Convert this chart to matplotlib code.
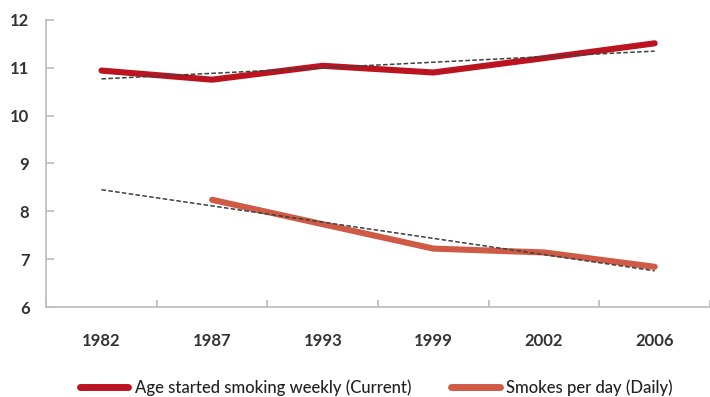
import numpy as np
import matplotlib

matplotlib.use('Agg')

from matplotlib import pyplot as plt

years = ['1982', '1987', '1993', '1999', '2002', '2006']
age_started = [10.94, 10.75, 11.04, 10.90, 11.20, 11.51]
smokes_per_day = [np.nan, 8.24, 7.73, 7.22, 7.14, 6.84]
y_ticks = [6, 7, 8, 9, 10, 11, 12]

plt.rcParams['font.family'] = ['Lato', 'DejaVu Sans']

fig = plt.figure(figsize=(7.1, 3.97), dpi=100)
ax = fig.add_axes([0.065, 0.2267, 0.935, 0.7233])

x = np.arange(len(years))

ax.plot(x, age_started, color='#bb1420', lw=4.4, solid_capstyle='round',
        label='Age started smoking weekly (Current)', zorder=3)
ax.plot(x, smokes_per_day, color='#cf5a45', lw=4.4, solid_capstyle='round',
        label='Smokes per day (Daily)', zorder=3)

# linear trendlines like excel does them
for vals in (age_started, smokes_per_day):
    v = np.array(vals, dtype=float)
    ok = ~np.isnan(v)
    k, b = np.polyfit(x[ok], v[ok], 1)
    ax.plot(x, k * x + b, color='#404040', lw=1.1, ls=(0, (3, 1.5)), zorder=4)

ax.set_xlim(-0.5, len(years) - 0.5)
ax.set_ylim(6, 12)
ax.set_yticks(y_ticks)
ax.set_xticks(x)
ax.set_xticklabels(years)
ax.set_xticks(np.arange(-0.5, len(years)), minor=True)

for s in ['top', 'right']:
    ax.spines[s].set_visible(False)
for s in ['left', 'bottom']:
    ax.spines[s].set_color('#bfbfbf')
    ax.spines[s].set_linewidth(1.3)

ax.tick_params(axis='y', direction='in', length=6, width=1.3, color='#bfbfbf',
               pad=12, labelsize=12, labelcolor='#333333')
ax.tick_params(axis='x', which='major', length=0, pad=19, labelsize=12,
               labelcolor='#333333')
ax.tick_params(axis='x', which='minor', direction='in', length=5, width=1.3,
               color='#bfbfbf')
for lab in ax.get_xticklabels() + ax.get_yticklabels():
    lab.set_fontweight('bold')

leg = fig.legend(loc='lower center', bbox_to_anchor=(0.53, -0.035), ncol=2,
                 frameon=False, fontsize=12, handlelength=2.9, columnspacing=2.4,
                 handletextpad=0.4, labelcolor='#222222')
for t in leg.get_texts():
    t.set_fontweight('medium')
for h in leg.get_lines():
    h.set_linewidth(5)

plt.savefig('out.png', dpi=100)
